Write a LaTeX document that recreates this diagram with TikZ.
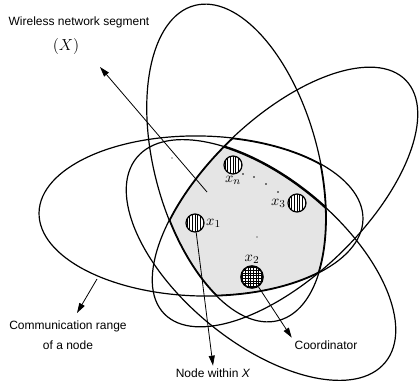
\documentclass[tikz,border=0pt]{standalone}
\usepackage{fontspec}
\setmainfont{Liberation Sans}
\usetikzlibrary{arrows.meta}

\begin{document}
\begin{tikzpicture}[x=0.75pt, y=-0.75pt,
    commrange/.style={line width=0.9pt},
    member/.style={circle, draw, line width=0.9pt, minimum size=13.5pt, inner sep=0pt, fill=white,
      path picture={
        \foreach \i in {-8,-6,...,8}
          \draw[line width=0.4pt] ([xshift=\i pt]path picture bounding box.south) -- ([xshift=\i pt]path picture bounding box.north);
      }},
    coordinator/.style={circle, draw, line width=1.2pt, minimum size=16.5pt, inner sep=0pt, fill=white,
      path picture={
        \foreach \i in {-9,-7,...,9} {
          \draw[line width=0.4pt] ([xshift=\i pt]path picture bounding box.south) -- ([xshift=\i pt]path picture bounding box.north);
          \draw[line width=0.4pt] ([yshift=\i pt]path picture bounding box.west) -- ([yshift=\i pt]path picture bounding box.east);
        }
      }},
    every label/.style={font=\fontsize{11}{13}\selectfont, inner sep=1pt},
    caption/.style={font=\fontsize{9}{15}\selectfont, align=center, inner sep=2pt},
    pointer/.style={-{Triangle[length=7.5pt, width=4.5pt]}, line width=0.6pt}
  ]
  \useasboundingbox (0,0) rectangle (420,388);

  % Overlap of all ranges: segment X
  \begin{scope}
    \clip[rotate around={15:(236.5,163)}] (236.5,163) ellipse [x radius=82, y radius=163];
    \clip[rotate around={-1.2:(201,216)}] (201,216) ellipse [x radius=162, y radius=80];
    \clip[rotate around={44:(285,197)}] (285,197) ellipse [x radius=168, y radius=79];
    \fill[gray!20, rotate around={-39.5:(261,260)}] (261,260) ellipse [x radius=161, y radius=82];
    \foreach \cx/\cy/\rx/\ry/\rot in {236.5/163/82/163/15, 201/216/162/80/-1.2,
                                    285/197/168/79/44, 261/260/161/82/-39.5}
      \draw[line width=1.8pt, rotate around={\rot:(\cx,\cy)}] (\cx,\cy) ellipse [x radius=\rx, y radius=\ry];
  \end{scope}

  % Communication ranges
  \foreach \cx/\cy/\rx/\ry/\rot in {236.5/163/82/163/15, 201/216/162/80/-1.2,
                                  285/197/168/79/44, 261/260/161/82/-39.5}
    \draw[commrange, rotate around={\rot:(\cx,\cy)}] (\cx,\cy) ellipse [x radius=\rx, y radius=\ry];

  % Nodes within X
  \node[member, label=below:$x_n$] (xn) at (233,165) {};
  \node[member, label=left:$x_3$] (x3) at (297,203) {};
  \node[member, label=right:$x_1$] (x1) at (195,223) {};
  \node[coordinator, label=above:$x_2$] (x2) at (252,277) {};

  \fill (243,174) circle (0.6pt);
  \fill (254,177) circle (0.6pt);
  \fill (266,184) circle (0.6pt);
  \fill (278,192) circle (0.6pt);
  \fill (172,158) circle (0.5pt);
  \fill (257,237) circle (0.5pt);

  % Texts
  \node[caption] (segtext) at (79,22) {Wireless network segment};
  \node[font=\fontsize{12}{14}\selectfont] (segsym) at (66,47) {$(X)$};
  \node[caption] (rangetext) at (68,335) {Communication range\\of a node};
  \node[caption] (withintext) at (213,373) {Node within \textit{X}};
  \node[caption] (coordtext) at (326,345) {Coordinator};

  \coordinate (seginside) at (207,192);
  \coordinate (segtip) at (100,67);
  \coordinate (rangepoint) at (97,279);
  \coordinate (rangetip) at (77,313);

  \draw[pointer] (seginside) -- (segtip);
  \draw[pointer] (rangepoint) -- (rangetip);
  \draw[pointer] (x1) -- (withintext.north);
  \draw[pointer] (x2) -- (coordtext.north west);
\end{tikzpicture}
\end{document}
